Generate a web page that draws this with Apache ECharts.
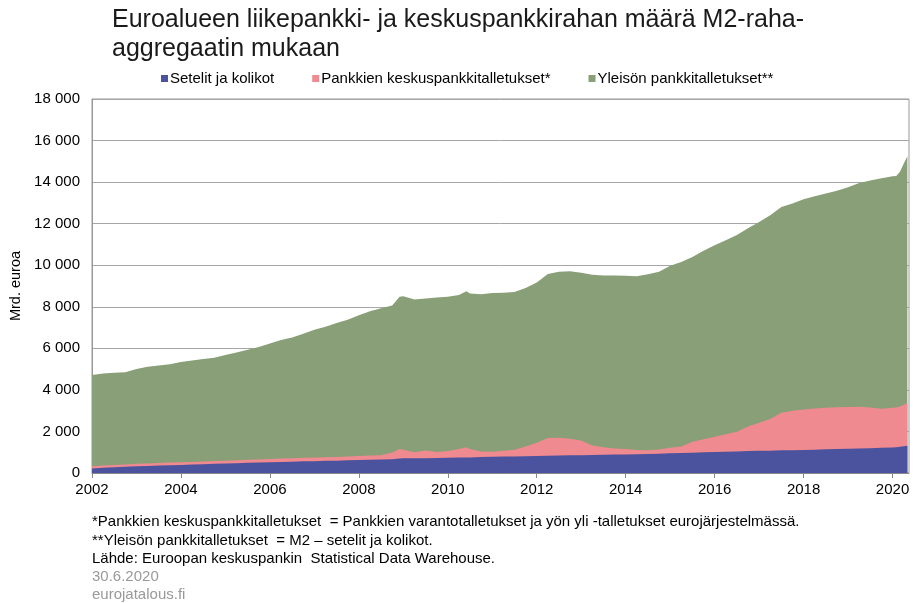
<!DOCTYPE html>
<html>
<head>
<meta charset="utf-8">
<script src="https://cdn.jsdelivr.net/npm/echarts@6/dist/echarts.min.js"></script>
<style>
  html, body { margin: 0; padding: 0; background: #fff; }
  #chart { width: 916px; height: 603px; }
</style>
</head>
<body>
<div id="chart"></div>
<script>
// kuukausi (vvvv-kk), neljännesvuosittain + muutama lisäpiste
const dates = [
  "2002-01","2002-04","2002-07","2002-10",
  "2003-01","2003-04","2003-07","2003-10",
  "2004-01","2004-04","2004-07","2004-10",
  "2005-01","2005-04","2005-07","2005-10",
  "2006-01","2006-04","2006-07","2006-10",
  "2007-01","2007-04","2007-07","2007-10",
  "2008-01","2008-04","2008-07","2008-10","2008-12",
  "2009-01","2009-04","2009-07","2009-10",
  "2010-01","2010-04","2010-06","2010-07","2010-10",
  "2011-01","2011-04","2011-07","2011-10",
  "2012-01","2012-04","2012-07","2012-10",
  "2013-01","2013-04","2013-07","2013-10",
  "2014-01","2014-04","2014-07","2014-10",
  "2015-01","2015-04","2015-07","2015-10",
  "2016-01","2016-04","2016-07","2016-10",
  "2017-01","2017-04","2017-07","2017-10",
  "2018-01","2018-04","2018-07","2018-10",
  "2019-01","2019-04","2019-07","2019-10",
  "2020-01","2020-02","2020-03","2020-04","2020-05"
];

// Setelit ja kolikot, mrd. euroa
const currency = [
  220, 250, 275, 300,
  320, 340, 360, 375,
  385, 405, 420, 440,
  455, 475, 490, 505,
  520, 535, 545, 560,
  570, 585, 595, 610,
  625, 640, 650, 665, 700,
  705, 710, 715, 725,
  737, 745, 745, 750, 765,
  780, 790, 800, 810,
  820, 835, 845, 855,
  860, 865, 875, 885,
  895, 905, 915, 930,
  950, 965, 980, 995,
  1010, 1025, 1040, 1055,
  1065, 1075, 1090, 1100,
  1110, 1125, 1140, 1155,
  1165, 1180, 1195, 1210,
  1230, 1235, 1260, 1290, 1315
];

// Pankkien keskuspankkitalletukset
const reserves = [
  110, 110, 115, 115,
  120, 120, 125, 125,
  128, 130, 130, 135,
  140, 140, 145, 150,
  155, 160, 165, 170,
  175, 175, 180, 180,
  190, 200, 210, 325, 460,
  415, 290, 365, 285,
  321, 415, 489, 400, 265,
  246, 280, 320, 470,
  638, 855, 855, 795,
  700, 455, 365, 295,
  259, 205, 185, 200,
  270, 315, 520, 625,
  735, 835, 950, 1185,
  1355, 1525, 1810, 1900,
  1950, 1985, 2000, 2005,
  2015, 2010, 1955, 1880,
  1910, 1915, 1940, 1990, 2045
];

// Yleisön pankkitalletukset
const deposits = [
  4390, 4430, 4440, 4435,
  4560, 4650, 4685, 4730,
  4827, 4885, 4940, 4975,
  5085, 5185, 5295, 5405,
  5555, 5705, 5810, 5970,
  6155, 6280, 6445, 6590,
  6775, 6950, 7070, 7070, 7320,
  7390, 7350, 7320, 7440,
  7422, 7410, 7516, 7490, 7570,
  7634, 7610, 7590, 7620,
  7712, 7890, 7980, 8060,
  8080, 8220, 8270, 8320,
  8336, 8360, 8460, 8560,
  8760, 8870, 8900, 9080,
  9215, 9340, 9460, 9540,
  9660, 9800, 9900, 9970,
  10120, 10210, 10310, 10420,
  10570, 10770, 10930, 11090,
  11140, 11150, 11300, 11600, 11890
];

const seriesNames = ["Setelit ja kolikot", "Pankkien keskuspankkitalletukset*", "Yleisön pankkitalletukset**"];
const seriesColors = ["#4B539E", "#EF8A90", "#889F77"];

function toYear(d) {
  const p = d.split("-");
  return Number(p[0]) + (Number(p[1]) - 1) / 12;
}

function thousands(v) {
  return String(v).replace(/\B(?=(\d{3})+(?!\d))/g, " ");
}

// pinotut kerrokset: jokainen alue täytetään nollasta kumulatiiviseen summaan,
// ylin kerros piirretään ensin ja alemmat sen päälle
const layers = [currency, reserves, deposits];
function cumulative(upTo) {
  return dates.map((d, i) => {
    let s = 0;
    for (let k = 0; k <= upTo; k++) s += layers[k][i];
    return [toYear(d), s];
  });
}

const chart = echarts.init(document.getElementById("chart"));
const font = "Liberation Sans, Arial, sans-serif";

const notes = [
  { text: "*Pankkien keskuspankkitalletukset  = Pankkien varantotalletukset ja yön yli -talletukset eurojärjestelmässä.", top: 514, color: "#000" },
  { text: "**Yleisön pankkitalletukset  = M2 – setelit ja kolikot.", top: 533, color: "#000" },
  { text: "Lähde: Euroopan keskuspankin  Statistical Data Warehouse.", top: 551, color: "#000" },
  { text: "30.6.2020", top: 569, color: "#999" },
  { text: "eurojatalous.fi", top: 587, color: "#999" }
];

chart.setOption({
  animation: false,
  textStyle: { fontFamily: font },
  title: [
    {
      text: "Euroalueen liikepankki- ja keskuspankkirahan määrä M2-raha-\naggregaatin mukaan",
      left: 112,
      top: 6,
      padding: 0,
      textStyle: { fontSize: 25, fontWeight: "normal", color: "#1a1a1a", lineHeight: 29, fontFamily: font }
    }
  ].concat(notes.map((n) => ({
    text: n.text,
    left: 92,
    top: n.top,
    padding: 0,
    textStyle: { fontSize: 15, fontWeight: "normal", color: n.color, fontFamily: font }
  }))),
  legend: {
    top: 66,
    left: 156,
    icon: "rect",
    itemWidth: 7,
    itemHeight: 7,
    itemGap: 38,
    textStyle: { fontSize: 15, color: "#000", fontFamily: font, padding: [0, 0, 0, -3] },
    data: seriesNames
  },
  grid: {
    left: 92,
    right: 7,
    top: 99,
    bottom: 130,
    show: true,
    borderColor: "#999",
    borderWidth: 1
  },
  xAxis: {
    type: "value",
    min: 2002,
    max: 2020.37,
    interval: 2,
    axisLine: { show: true, lineStyle: { color: "#888" } },
    axisTick: { show: true, length: 5, lineStyle: { color: "#888" } },
    axisLabel: {
      color: "#000",
      fontSize: 15,
      margin: 9,
      showMaxLabel: false,
      formatter: (v) => String(Math.round(v))
    },
    splitLine: { show: false }
  },
  yAxis: {
    type: "value",
    min: 0,
    max: 18000,
    interval: 2000,
    name: "Mrd. euroa",
    nameLocation: "middle",
    nameGap: 66,
    nameTextStyle: { fontSize: 14.5, color: "#000" },
    axisLine: { show: true, lineStyle: { color: "#999" } },
    axisTick: { show: false },
    axisLabel: { color: "#000", fontSize: 15, margin: 12, formatter: thousands },
    splitLine: { lineStyle: { color: "#a6a6a6", width: 1 } }
  },
  series: [2, 1, 0].map((i) => ({
    name: seriesNames[i],
    type: "line",
    data: cumulative(i),
    z: 2 + (2 - i),
    showSymbol: false,
    symbol: "none",
    lineStyle: { width: 0 },
    itemStyle: { color: seriesColors[i] },
    areaStyle: { color: seriesColors[i], opacity: 1 }
  }))
});
</script>
</body>
</html>
